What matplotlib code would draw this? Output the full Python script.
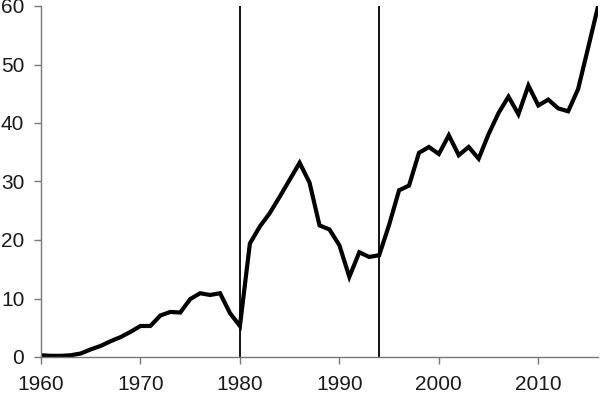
import matplotlib
matplotlib.use('Agg')
import matplotlib.pyplot as plt

years = list(range(1960, 2017))
values = [0.3, 0.2, 0.2, 0.3, 0.6, 1.3, 1.9, 2.7, 3.4, 4.3,
          5.3, 5.3, 7.1, 7.7, 7.6, 9.9, 10.9, 10.6, 10.9, 7.5,
          5.3, 19.4, 22.3, 24.6, 27.4, 30.3, 33.2, 29.8, 22.5, 21.8,
          19.1, 13.7, 17.9, 17.1, 17.4, 22.6, 28.5, 29.3, 34.9, 35.9,
          34.7, 37.9, 34.5, 35.9, 33.9, 38.1, 41.7, 44.5, 41.5, 46.4,
          43.0, 44.0, 42.5, 42.0, 45.8, 52.8, 59.9]
markers_at = [1980, 1994]
xticks = [1960, 1970, 1980, 1990, 2000, 2010]
yticks = [0, 10, 20, 30, 40, 50, 60]

plt.rcParams['font.family'] = ['Liberation Sans', 'DejaVu Sans']
fig = plt.figure(figsize=(6, 3.97), dpi=100)
ax = fig.add_axes([41/600, 1 - 357/397, 557/600, 351/397])

for yr in markers_at:
    ax.axvline(yr, color='black', lw=1.3, zorder=1)
ax.plot(years, values, color='black', lw=3, solid_joinstyle='miter', zorder=2)

ax.set_xlim(1960, 2016)
ax.set_ylim(0, 60)
ax.set_xticks(xticks)
ax.set_yticks(yticks)
for s in ['top', 'right']:
    ax.spines[s].set_visible(False)
for s in ['left', 'bottom']:
    ax.spines[s].set_color('#777777')
    ax.spines[s].set_linewidth(1)
ax.tick_params(direction='out', length=5, width=1, color='#777777',
               labelsize=15, labelcolor='#1a1a1a')
ax.tick_params(axis='y', pad=7)
ax.tick_params(axis='x', pad=8)

fig.savefig('out.png', dpi=100)
